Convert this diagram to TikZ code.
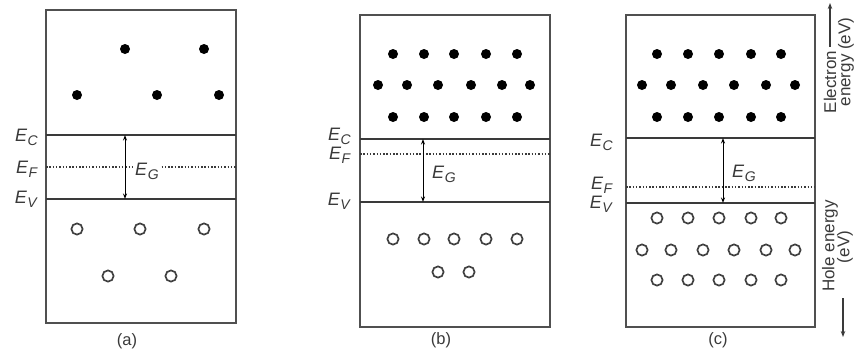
\documentclass[tikz,border=0pt]{standalone}
\usepackage{fontspec}
\setmainfont{Liberation Sans}
\usetikzlibrary{arrows.meta}
\definecolor{boxgray}{HTML}{505050}
\definecolor{linegray}{HTML}{3A3A3A}
\definecolor{holegray}{HTML}{404040}
\newcommand\En[1]{\textit{E}\kern0.4pt\raisebox{-0.45ex}{\fontsize{14}{16}\selectfont\textit{#1}}}
\begin{document}
\begin{tikzpicture}[x=1pt,y=-1pt,
  panelbox/.style={draw=boxgray,line width=1.7pt},
  level/.style={draw=linegray,line width=1.2pt},
  fermi/.style={draw=linegray,line width=1.1pt,dash pattern=on 1.5pt off 1.8pt},
  gaparrow/.style={{Stealth[length=5.5pt,width=4pt]}-{Stealth[length=5.5pt,width=4pt]},line width=1pt,draw=black},
  elabel/.style={anchor=base east,inner sep=0pt,text=linegray,font=\fontsize{18}{20}\selectfont},
  glabel/.style={anchor=base west,inner sep=1pt,fill=white,text=linegray,font=\fontsize{18}{20}\selectfont},
  caption/.style={font=\fontsize{16.5}{18}\selectfont,inner sep=0pt,text=linegray},
  side/.style={font=\fontsize{17}{19}\selectfont,rotate=90,inner sep=0pt,text=linegray},
  sidearrow/.style={-{Stealth[length=6pt,width=4.5pt]},line width=1.2pt,draw=linegray},
  elec/.style={fill=black},
  hole/.style={draw=holegray,line width=1.7pt}]
\useasboundingbox (0,0) rectangle (860,354);
% ---------- panel (a)
\draw[panelbox] (46,10) rectangle (236,323);
\draw[level] (46,135) -- (236,135);
\draw[level] (46,199) -- (236,199);
\draw[fermi] (46,167) -- (236,167);
\coordinate (aC) at (125,135);
\coordinate (aV) at (125,199);
\draw[gaparrow] (aC) -- (aV);
\node[glabel] (aG) at (134,175) {\En{G}};
\node[elabel] (aEC) at (38,141) {\En{C}};
\node[elabel] (aEF) at (38,173) {\En{F}};
\node[elabel] (aEV) at (38,203) {\En{V}};
\foreach \x/\y in {125/49,204/49,77/95,157/95,219/95}
  \fill[elec] (\x,\y) circle[radius=5];
\foreach \x/\y in {77/229,140/229,204/229,108/276,171/276}
  \draw[hole] (\x,\y) circle[radius=5.6];
\node[caption] (capa) at (127,341) {(a)};
% ---------- panel (b)
\draw[panelbox] (360,15) rectangle (550,327);
\draw[level] (360,139) -- (550,139);
\draw[level] (360,202) -- (550,202);
\draw[fermi] (360,154) -- (550,154);
\coordinate (bC) at (423,139);
\coordinate (bV) at (423,202);
\draw[gaparrow] (bC) -- (bV);
\node[glabel] (bG) at (431,178) {\En{G}};
\node[elabel] (bEC) at (351,140) {\En{C}};
\node[elabel] (bEF) at (351,159) {\En{F}};
\node[elabel] (bEV) at (351,205) {\En{V}};
\foreach \x in {393,424,454,486,517} {
  \fill[elec] (\x,54) circle[radius=5];
  \fill[elec] (\x,117) circle[radius=5];
  \draw[hole] (\x,239) circle[radius=5.6];}
\foreach \x in {378,407,438,471,502,530}
  \fill[elec] (\x,85) circle[radius=5];
\foreach \x in {438,469}
  \draw[hole] (\x,272) circle[radius=5.6];
\node[caption] (capb) at (441,340) {(b)};
% ---------- panel (c)
\draw[panelbox] (626,15) rectangle (815,327);
\draw[level] (626,138) -- (815,138);
\draw[level] (626,203) -- (815,203);
\draw[fermi] (626,187) -- (815,187);
\coordinate (cC) at (723,138);
\coordinate (cV) at (723,203);
\draw[gaparrow] (cC) -- (cV);
\node[glabel] (cG) at (731,177) {\En{G}};
\node[elabel] (cEC) at (613,146) {\En{C}};
\node[elabel] (cEF) at (613,189) {\En{F}};
\node[elabel] (cEV) at (613,208) {\En{V}};
\foreach \x in {657,688,719,751,781} {
  \fill[elec] (\x,54) circle[radius=5];
  \fill[elec] (\x,117) circle[radius=5];
  \draw[hole] (\x,218) circle[radius=5.6];
  \draw[hole] (\x,280) circle[radius=5.6];}
\foreach \x in {642,671,703,734,766,795} {
  \fill[elec] (\x,85) circle[radius=5];
  \draw[hole] (\x,250) circle[radius=5.6];}
\node[caption] (capc) at (718,340) {(c)};
% ---------- side labels
\node[side] (elec) at (830,82) {Electron};
\node[side] (eenergy) at (846,62) {energy (eV)};
\coordinate (etop) at (830,3);
\draw[sidearrow] (elec.east) ++(0,-4) -- (etop);
\node[side] (hole) at (830,246) {Hole energy};
\node[side] (heV) at (845,247) {(eV)};
\coordinate (hb1) at (843,298);
\coordinate (hb2) at (843,337);
\draw[sidearrow] (hb1) -- (hb2);
\end{tikzpicture}
\end{document}
